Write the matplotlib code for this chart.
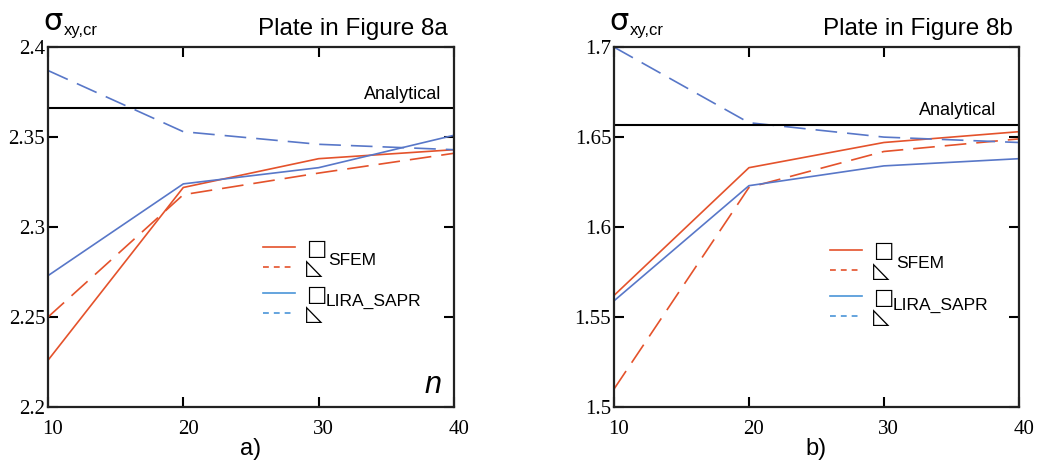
import matplotlib.pyplot as plt
from matplotlib.lines import Line2D
from matplotlib.transforms import ScaledTranslation

n = [10, 20, 30, 40]

# Plate in Figure 8a
a_sfem_sq = [2.226, 2.322, 2.338, 2.343]
a_sfem_tri = [2.250, 2.318, 2.330, 2.341]
a_lira_sq = [2.273, 2.324, 2.333, 2.351]
a_lira_tri = [2.387, 2.353, 2.346, 2.343]
a_exact = 2.366
a_yticks = [2.2, 2.25, 2.3, 2.35, 2.4]
a_yticklabels = ['2.2', '2.25', '2.3', '2.35', '2.4']

# Plate in Figure 8b
b_sfem_sq = [1.562, 1.633, 1.647, 1.653]
b_sfem_tri = [1.510, 1.622, 1.642, 1.649]
b_lira_sq = [1.559, 1.623, 1.634, 1.638]
b_lira_tri = [1.700, 1.658, 1.650, 1.647]
b_exact = 1.657
b_yticks = [1.5, 1.55, 1.6, 1.65, 1.7]
b_yticklabels = ['1.5', '1.55', '1.6', '1.65', '1.7']

RED = '#e4522b'
BLUE = '#5877c8'
LBLUE = '#4a95d8'
SANS = 'Liberation Sans'
SERIF = 'Liberation Serif'

fig = plt.figure(figsize=(10.46, 4.62), dpi=100)
ax1 = fig.add_axes([0.0459, 0.119, 0.388, 0.779])
ax2 = fig.add_axes([0.587, 0.119, 0.387, 0.779])
xshift = ScaledTranslation(5 / 100, 0, fig.dpi_scale_trans)


def group_legend(ax, color, anchor):
    handles = [Line2D([], [], color=color, lw=1.2),
               Line2D([], [], color=color, lw=1.2, dashes=(3.5, 3))]
    return ax.legend(handles, ['□', '◺'], loc='upper left',
                     bbox_to_anchor=anchor, frameon=False, handlelength=1.5,
                     handletextpad=0.5, labelspacing=-0.02, borderpad=0,
                     borderaxespad=0,
                     prop={'family': 'DejaVu Sans', 'size': 15.5})


def panel(ax, sfem_sq, sfem_tri, lira_sq, lira_tri, exact, yticks, ylabels,
          title, tag, an_x, leg_x, sfem_xy, lira_xy, leg_y):
    ax.plot(n, sfem_sq, color=RED, lw=1.2)
    ax.plot(n, sfem_tri, color=RED, lw=1.2, dashes=(13, 6))
    ax.plot(n, lira_sq, color=BLUE, lw=1.2)
    ax.plot(n, lira_tri, color=BLUE, lw=1.2, dashes=(13, 6))
    ax.axhline(exact, color='black', lw=1.5)

    ax.set_xlim(10, 40)
    ax.set_ylim(yticks[0], yticks[-1])
    ax.set_xticks(n)
    ax.set_yticks(yticks)
    ax.set_yticklabels(ylabels)
    ax.tick_params(direction='in', length=7, width=1.5, top=True, right=True,
                   labelsize=15, pad=2)
    ax.tick_params(axis='x', pad=9)
    for lab in ax.get_xticklabels() + ax.get_yticklabels():
        lab.set_fontfamily(SERIF)
    for lab in ax.get_xticklabels():
        lab.set_transform(lab.get_transform() + xshift)
    for sp in ax.spines.values():
        sp.set_linewidth(1.6)
        sp.set_color('#222222')

    ax.text(an_x, exact + 0.003, 'Analytical', ha='right', va='bottom',
            fontsize=13, family=SANS, transform=ax.get_yaxis_transform())
    ax.text(0.985, 1.02, title, ha='right', va='bottom', fontsize=17.5,
            family=SANS, transform=ax.transAxes)
    ax.text(-0.012, 1.03, 'σ', ha='left', va='bottom', fontsize=22,
            family='DejaVu Sans', transform=ax.transAxes)
    ax.text(0.04, 1.025, 'xy,cr', ha='left', va='bottom', fontsize=12,
            family=SANS, transform=ax.transAxes)
    ax.text(0.5, -0.085, tag, ha='center', va='top', fontsize=17,
            family=SANS, transform=ax.transAxes)

    first = group_legend(ax, RED, (leg_x, leg_y[0]))
    ax.add_artist(first)
    group_legend(ax, LBLUE, (leg_x, leg_y[1]))
    ax.text(sfem_xy[0], sfem_xy[1], 'SFEM', ha='left', va='center',
            fontsize=12.5, family=SANS, transform=ax.transAxes)
    ax.text(lira_xy[0], lira_xy[1], 'LIRA_SAPR', ha='left', va='center',
            fontsize=12.5, family=SANS, transform=ax.transAxes)


panel(ax1, a_sfem_sq, a_sfem_tri, a_lira_sq, a_lira_tri, a_exact,
      a_yticks, a_yticklabels, 'Plate in Figure 8a', 'a)', 0.97,
      0.53, (0.69, 0.408), (0.685, 0.294), (0.468, 0.34))
ax1.text(0.97, 0.04, 'n', ha='right', va='baseline', fontsize=22,
         family=SANS, style='italic', transform=ax1.transAxes)

panel(ax2, b_sfem_sq, b_sfem_tri, b_lira_sq, b_lira_tri, b_exact,
      b_yticks, b_yticklabels, 'Plate in Figure 8b', 'b)', 0.945,
      0.533, (0.696, 0.40), (0.689, 0.283), (0.46, 0.332))

fig.savefig('out.png', dpi=100)
